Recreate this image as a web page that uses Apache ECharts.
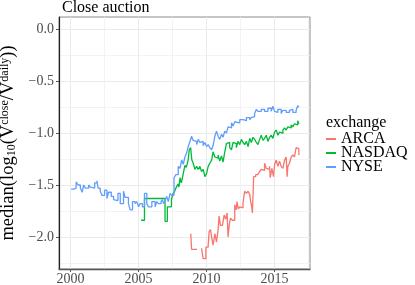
<!DOCTYPE html>
<html><head><meta charset="utf-8">
<script src="https://cdn.jsdelivr.net/npm/echarts@6/dist/echarts.min.js"></script>
<style>html,body{margin:0;padding:0;background:#fff}#c{width:415px;height:285px}</style>
</head><body><div id="c"></div>
<script>
const seriesNames = ['ARCA', 'NASDAQ', 'NYSE'];
const xTickLabels = [2000, 2005, 2010, 2015];
const xMinorGrid = [2002.5, 2007.5, 2012.5, 2017.5];
const yTickLabels = [0, -0.5, -1.0, -1.5, -2.0];
const yMinorGrid = [-0.25, -0.75, -1.25, -1.75, -2.25];

const nyseX = [2000.05,2000.24,2000.42,2000.56,2000.73,2000.86,2000.97,2001.10,2001.34,2001.46,2001.59,2001.78,2001.95,2002.03,2002.19,2002.32,2002.51,2002.68,2002.80,2003.00,2003.17,2003.29,2003.49,2003.66,2003.90,2004.02,2004.26,2004.39,2004.56,2004.75,2004.88,2005.00,2005.12,2005.29,2005.44,2005.61,2005.73,2005.98,2006.22,2006.34,2006.46,2006.66,2006.75,2006.85,2006.95,2007.07,2007.19,2007.32,2007.44,2007.61,2007.75,2007.92,2008.05,2008.17,2008.29,2008.41,2008.54,2008.65,2008.78,2008.90,2009.02,2009.14,2009.27,2009.39,2009.51,2009.63,2009.75,2009.88,2010.00,2010.12,2010.24,2010.37,2010.48,2010.61,2010.73,2010.85,2010.97,2011.10,2011.21,2011.34,2011.46,2011.58,2011.70,2011.83,2011.95,2012.07,2012.19,2012.44,2012.68,2012.93,2013.17,2013.29,2013.41,2013.53,2013.66,2013.77,2014.02,2014.26,2014.51,2014.75,2014.87,2015.00,2015.12,2015.24,2015.48,2015.61,2015.85,2016.09,2016.22,2016.34,2016.58,2016.70,2016.78];
const nyseY = [-1.54,-1.53,-1.47,-1.50,-1.53,-1.57,-1.50,-1.53,-1.50,-1.52,-1.53,-1.48,-1.46,-1.53,-1.56,-1.60,-1.55,-1.63,-1.57,-1.61,-1.64,-1.65,-1.58,-1.68,-1.56,-1.62,-1.68,-1.74,-1.66,-1.68,-1.66,-1.71,-1.68,-1.71,-1.58,-1.68,-1.71,-1.66,-1.71,-1.66,-1.68,-1.66,-1.64,-1.68,-1.65,-1.61,-1.66,-1.58,-1.60,-1.43,-1.40,-1.32,-1.34,-1.26,-1.30,-1.23,-1.19,-1.13,-1.08,-1.03,-1.07,-1.08,-1.11,-1.06,-1.09,-1.08,-1.12,-1.09,-1.13,-1.11,-1.14,-1.16,-1.12,-1.03,-0.98,-1.03,-1.06,-1.01,-1.04,-0.98,-1.00,-0.94,-0.95,-0.90,-0.93,-0.89,-0.90,-0.87,-0.88,-0.85,-0.87,-0.85,-0.84,-0.81,-0.77,-0.79,-0.77,-0.79,-0.76,-0.79,-0.74,-0.79,-0.80,-0.77,-0.81,-0.78,-0.80,-0.78,-0.77,-0.80,-0.78,-0.735,-0.75];

const nasdaqX = [2005.19,2005.44,2006.95,2007.12,2007.42,2007.54,2007.66,2007.78,2007.90,2007.97,2008.05,2008.15,2008.29,2008.41,2008.51,2008.65,2008.73,2008.83,2008.92,2009.02,2009.14,2009.27,2009.39,2009.51,2009.63,2009.75,2009.88,2010.00,2010.12,2010.24,2010.37,2010.48,2010.61,2010.73,2010.85,2010.97,2011.10,2011.21,2011.34,2011.46,2011.58,2011.70,2011.83,2011.95,2012.07,2012.19,2012.31,2012.44,2012.56,2012.68,2012.80,2012.93,2013.05,2013.17,2013.29,2013.41,2013.53,2013.66,2013.77,2013.90,2014.02,2014.14,2014.26,2014.39,2014.51,2014.63,2014.75,2014.87,2015.00,2015.12,2015.24,2015.36,2015.48,2015.61,2015.73,2015.85,2015.97,2016.09,2016.22,2016.34,2016.46,2016.58,2016.70,2016.78];
const nasdaqY = [-1.84,-1.63,-1.85,-1.71,-1.64,-1.58,-1.56,-1.52,-1.49,-1.52,-1.43,-1.48,-1.39,-1.31,-1.33,-1.26,-1.16,-1.14,-1.26,-1.29,-1.35,-1.32,-1.35,-1.32,-1.37,-1.35,-1.42,-1.39,-1.32,-1.29,-1.26,-1.18,-1.23,-1.24,-1.21,-1.27,-1.22,-1.28,-1.18,-1.10,-1.09,-1.14,-1.16,-1.09,-1.10,-1.14,-1.08,-1.11,-1.06,-1.09,-1.11,-1.08,-1.13,-1.05,-1.09,-1.04,-1.06,-1.09,-1.11,-1.06,-1.02,-1.07,-1.05,-1.02,-1.08,-1.04,-1.02,-1.05,-0.99,-0.97,-1.02,-0.99,-1.00,-0.97,-0.95,-0.97,-0.94,-0.95,-0.92,-0.94,-0.91,-0.92,-0.88,-0.91];

const arcaX = [2008.84,2008.90,2009.02,2009.30,2009.63,2009.75,2009.95,2010.12,2010.19,2010.29,2010.37,2010.48,2010.61,2010.73,2010.85,2010.92,2011.02,2011.17,2011.29,2011.41,2011.51,2011.58,2011.67,2011.76,2011.89,2012.07,2012.17,2012.24,2012.33,2012.44,2012.56,2012.68,2012.80,2012.93,2013.05,2013.17,2013.24,2013.31,2013.37,2013.41,2013.46,2013.61,2013.77,2013.90,2014.02,2014.14,2014.26,2014.39,2014.51,2014.63,2014.68,2014.80,2014.92,2015.00,2015.12,2015.24,2015.36,2015.48,2015.61,2015.73,2015.85,2015.92,2015.97,2016.09,2016.22,2016.34,2016.46,2016.58,2016.70,2016.78];
const arcaY = [-1.97,-2.12,-2.12,null,-2.11,-2.21,-2.10,-2.08,-1.95,-1.93,-2.00,-2.08,-1.97,-2.05,-1.93,-1.80,-1.89,-1.90,-1.79,-1.83,-1.77,-2.00,-1.88,-1.82,-1.84,-1.69,-1.74,-1.66,-1.73,-1.71,-1.72,-1.67,-1.56,-1.58,-1.56,-1.59,-1.66,-1.70,-1.77,-1.76,-1.42,-1.40,-1.39,-1.37,-1.35,-1.36,-1.29,-1.34,-1.35,-1.32,-1.43,-1.34,-1.42,-1.30,-1.26,-1.32,-1.27,-1.32,-1.34,-1.26,-1.23,-1.42,-1.32,-1.29,-1.23,-1.21,-1.23,-1.14,-1.15,-1.21];

const colors = { ARCA: '#F8766D', NASDAQ: '#00BA38', NYSE: '#619CFF' };
const FONT = '"Liberation Serif", "DejaVu Serif", serif';

function zip(xs, ys) { return xs.map((x, i) => [x, ys[i] === null ? '-' : ys[i]]); }
const dataMap = { ARCA: zip(arcaX, arcaY), NASDAQ: zip(nasdaqX, nasdaqY), NYSE: zip(nyseX, nyseY) };

const XMIN = 1999.16, XMAX = 2017.6, YMIN = -2.31, YMAX = 0.12;
const fmtY = v => v.toFixed(1).replace('-', '\u2212');

const chart = echarts.init(document.getElementById('c'), null, { renderer: 'canvas' });
chart.setOption({
  animation: false,
  backgroundColor: '#fff',
  title: [
    { text: 'Close auction', left: 62, top: 0, padding: 0,
      textStyle: { fontFamily: FONT, fontSize: 16, fontWeight: 'normal', color: '#000' } },
    { text: 'exchange', left: 326, top: 115, padding: 0,
      textStyle: { fontFamily: FONT, fontSize: 16, fontWeight: 'normal', color: '#000' } }
  ],
  legend: {
    data: seriesNames, orient: 'vertical', left: 326, top: 131, padding: 0,
    itemWidth: 10, itemHeight: 2, itemGap: -2, icon: 'rect',
    textStyle: { fontFamily: FONT, fontSize: 16, lineHeight: 15, color: '#000' }
  },
  grid: { left: 59, top: 17, width: 251, height: 252, show: true, borderColor: '#8c8c8c', borderWidth: 1,
    containLabel: false, outerBoundsMode: 'none' },
  xAxis: [
    { type: 'value', min: XMIN, max: XMAX, gridIndex: 0,
      axisLine: { show: true, onZero: false, lineStyle: { color: '#555', width: 1.3 } },
      axisTick: { show: true, length: 3, customValues: xTickLabels, lineStyle: { color: '#555' } },
      axisLabel: { customValues: xTickLabels, margin: 3, fontFamily: FONT, fontSize: 14, color: '#4d4d4d', formatter: v => String(v) },
      splitLine: { show: true, lineStyle: { color: '#ebebeb', width: 1 } } },
    { type: 'value', min: XMIN, max: XMAX, gridIndex: 0, position: 'bottom',
      axisLine: { show: false, onZero: false }, axisTick: { show: false, customValues: xMinorGrid }, axisLabel: { show: false, customValues: xMinorGrid },
      splitLine: { show: true, lineStyle: { color: '#f0f0f0', width: 0.8 } } }
  ],
  yAxis: [
    { type: 'value', min: YMIN, max: YMAX, gridIndex: 0,
      axisLine: { show: true, onZero: false, lineStyle: { color: '#222', width: 1.2 } },
      axisTick: { show: true, length: 3, customValues: yTickLabels, lineStyle: { color: '#555' } },
      axisLabel: { customValues: yTickLabels, margin: 5, fontFamily: FONT, fontSize: 14, color: '#4d4d4d', formatter: fmtY },
      splitLine: { show: true, lineStyle: { color: '#ebebeb', width: 1 } },
      name: '{t|median(log}{sub|10}{t|(V}{sup|close}{t|/V}{sup|daily}{t|))}',
      nameLocation: 'middle', nameGap: 33, nameRotate: 90,
      nameTextStyle: { fontFamily: FONT, fontSize: 18.5, color: '#000',
        rich: {
          t: { fontFamily: FONT, fontSize: 18.5, color: '#000', lineHeight: 19 },
          sub: { fontFamily: FONT, fontSize: 12, color: '#000', verticalAlign: 'bottom', lineHeight: 6 },
          sup: { fontFamily: FONT, fontSize: 12, color: '#000', verticalAlign: 'top', lineHeight: 12 }
        } } },
    { type: 'value', min: YMIN, max: YMAX, gridIndex: 0,
      axisLine: { show: false, onZero: false }, axisTick: { show: false, customValues: yMinorGrid }, axisLabel: { show: false, customValues: yMinorGrid },
      splitLine: { show: true, lineStyle: { color: '#f0f0f0', width: 0.8 } } }
  ],
  series: seriesNames.map(n => ({
    name: n, type: 'line', step: 'end', xAxisIndex: 0, yAxisIndex: 0,
    data: dataMap[n], showSymbol: false, symbol: 'none', connectNulls: false,
    lineStyle: { color: colors[n], width: 1.3 }, itemStyle: { color: colors[n] },
    clip: true, z: 3
  }))
});
</script></body></html>
